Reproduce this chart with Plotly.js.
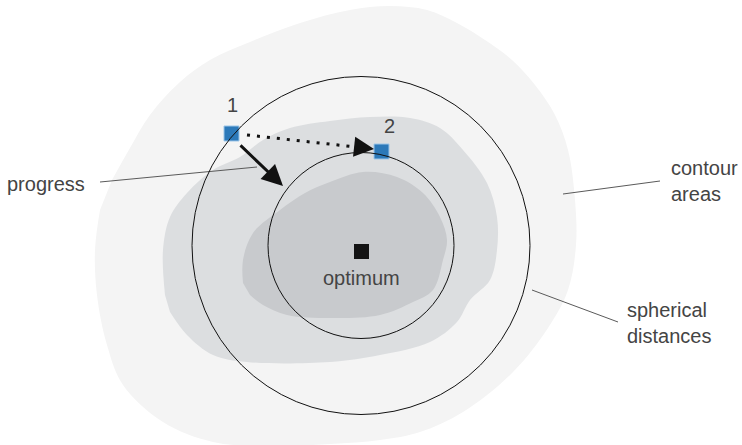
<!DOCTYPE html>
<html>
<head>
<meta charset="utf-8">
<script src="https://cdn.plot.ly/plotly-3.0.1.min.js"></script>
<style>html,body{margin:0;padding:0;background:#fff;}#chart{width:742px;height:445px;}</style>
</head>
<body>
<div id="chart"></div>
<script>
// Contour areas (outer -> inner), in picture coordinates
const lightX = [112,130,150,180,210,250,300,350,390,427,457,485,512,535,555,568,575,576,568,548,513,463,420,380,330,270,213,163,123,107,97,95,100];
const lightY = [180,148,115,82,60,42,23,10,6,10,23,40,60,85,115,150,200,245,290,328,372,412,432,440,444,446,442,422,385,345,295,250,210];
const midX = [165,163,170,187,213,240,263,290,330,370,410,440,463,487,497,497,490,470,457,430,380,330,247,213,187,170];
const midY = [295,250,217,193,170,157,140,128,121,117,118,128,150,183,217,250,280,300,322,342,355,362,362,355,335,312];
const darkX = [243,243,253,280,305,330,363,397,423,440,447,443,433,413,380,330,287,263,250];
const darkY = [283,260,233,210,193,182,172,177,193,217,240,260,290,302,315,318,315,305,295];

// Spherical distance circles
const circleCenter = [361, 245.5];
const circleRadii = [169, 93];

// Optimum and steps
const optimumX = [361.5];
const optimumY = [251.5];
const stepX = [231.5, 381.5];
const stepY = [133.5, 151.5];
const stepLabels = ['1', '2'];
const stepLabelX = [232, 389];
const stepLabelY = [105, 126];

// Arrows: [tailX, tailY, tipX, tipY]
const progressArrow = [239, 144, 283, 186];
const dottedArrow = [247, 135, 374, 149];

// Callouts
const calloutText = ['progress', 'contour<br>areas', 'spherical<br>distances'];
const calloutX = [5, 669, 625];
const calloutY = [184, 181, 323];
const leaderX = [[100, 257], [563, 660], [532, 618]];
const leaderY = [[182, 167], [194, 181], [290, 322]];

const FONT = 'Liberation Sans, Arial, sans-serif';
const TXT = '#444444';

const traces = [
  {x: lightX, y: lightY, type: 'scatter', mode: 'lines', fill: 'toself', fillcolor: '#f4f4f4', line: {width: 0, shape: 'spline', color: '#f4f4f4'}, hoverinfo: 'skip'},
  {x: midX, y: midY, type: 'scatter', mode: 'lines', fill: 'toself', fillcolor: '#dcdee0', line: {width: 0, shape: 'spline', color: '#dcdee0'}, hoverinfo: 'skip'},
  {x: darkX, y: darkY, type: 'scatter', mode: 'lines', fill: 'toself', fillcolor: '#c8cacd', line: {width: 0, shape: 'spline', color: '#c8cacd'}, hoverinfo: 'skip'}
];

leaderX.forEach((lx, i) => {
  traces.push({x: lx, y: leaderY[i], type: 'scatter', mode: 'lines', line: {color: '#5a5a5a', width: 1}, hoverinfo: 'skip'});
});

// dotted path (stops short of the arrow head)
const dTipBack = 0.9;
traces.push({
  x: [dottedArrow[0], dottedArrow[0] + (dottedArrow[2] - dottedArrow[0]) * dTipBack],
  y: [dottedArrow[1], dottedArrow[1] + (dottedArrow[3] - dottedArrow[1]) * dTipBack],
  type: 'scatter', mode: 'lines', line: {color: '#111', width: 3, dash: '3px,7px'}, hoverinfo: 'skip'
});

traces.push({x: optimumX, y: optimumY, type: 'scatter', mode: 'markers', marker: {symbol: 'square', size: 15, color: '#141414'}, hoverinfo: 'skip'});
traces.push({x: stepX, y: stepY, type: 'scatter', mode: 'markers', marker: {symbol: 'square', size: 15, color: '#2c79b9', line: {color: '#9cc6e8', width: 1}}, hoverinfo: 'skip'});

const shapes = circleRadii.map(r => ({
  type: 'circle', xref: 'x', yref: 'y',
  x0: circleCenter[0] - r, x1: circleCenter[0] + r,
  y0: circleCenter[1] - r, y1: circleCenter[1] + r,
  line: {color: '#111', width: 1}, fillcolor: 'rgba(0,0,0,0)'
}));

const annotations = [];
annotations.push({
  x: progressArrow[2], y: progressArrow[3], ax: progressArrow[0], ay: progressArrow[1],
  xref: 'x', yref: 'y', axref: 'x', ayref: 'y', text: '', showarrow: true,
  arrowhead: 2, arrowsize: 1.4, arrowwidth: 3, arrowcolor: '#111', standoff: 0, startstandoff: 0
});
annotations.push({
  x: dottedArrow[2], y: dottedArrow[3],
  ax: dottedArrow[0] + (dottedArrow[2] - dottedArrow[0]) * 0.88,
  ay: dottedArrow[1] + (dottedArrow[3] - dottedArrow[1]) * 0.88,
  xref: 'x', yref: 'y', axref: 'x', ayref: 'y', text: '', showarrow: true,
  arrowhead: 2, arrowsize: 2, arrowwidth: 2, arrowcolor: '#111', standoff: 0, startstandoff: 0
});
stepLabels.forEach((t, i) => {
  annotations.push({x: stepLabelX[i], y: stepLabelY[i], xref: 'x', yref: 'y', text: t, showarrow: false,
    xanchor: 'center', yanchor: 'middle', font: {family: FONT, size: 20, color: TXT}});
});
annotations.push({x: optimumX[0], y: 278, xref: 'x', yref: 'y', text: 'optimum', showarrow: false,
  xanchor: 'center', yanchor: 'middle', font: {family: FONT, size: 20, color: TXT}});
calloutText.forEach((t, i) => {
  annotations.push({x: calloutX[i], y: calloutY[i], xref: 'x', yref: 'y', text: t, showarrow: false,
    xanchor: 'left', yanchor: 'middle', align: 'left', font: {family: FONT, size: 20, color: TXT}});
});

const layout = {
  width: 742, height: 445,
  margin: {l: 0, r: 0, t: 0, b: 0, pad: 0},
  paper_bgcolor: '#ffffff', plot_bgcolor: '#ffffff',
  showlegend: false,
  xaxis: {range: [0, 742], visible: false, fixedrange: true},
  yaxis: {range: [445, 0], visible: false, fixedrange: true},
  shapes: shapes,
  annotations: annotations
};

Plotly.newPlot('chart', traces, layout, {displayModeBar: false, staticPlot: true});
</script>
</body>
</html>
